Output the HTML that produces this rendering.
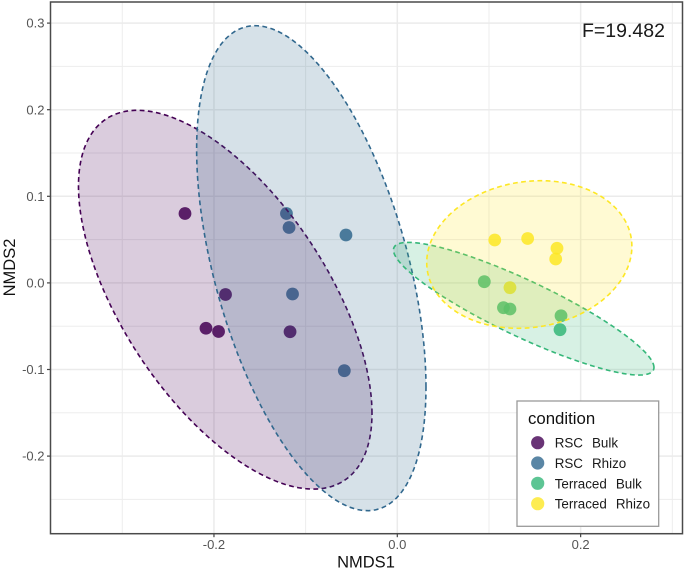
<!DOCTYPE html>
<html lang="en">
<head>
<meta charset="utf-8">
<title>NMDS ordination by condition</title>
<style>
html, body { margin: 0; padding: 0; background: #fff; overflow: hidden; }
svg { display: block; font-family: "Liberation Sans", sans-serif; filter: blur(0.35px); }
text { white-space: pre; }
</style>
</head>
<body>
<svg id="chart" xmlns="http://www.w3.org/2000/svg" width="685" height="570" viewBox="0 0 685 570">
  <rect x="0" y="0" width="685" height="570" fill="#ffffff"/>
  <g id="grid"></g>
  <g id="axis-marks"></g>
  <g id="points"></g>
  <g id="ellipses"></g>
  <rect x="50.5" y="2" width="632" height="531.7" fill="none" stroke="#4a4a4a" stroke-width="1.5"/>
  <text x="582" y="37" font-size="19.5" fill="#1a1a1a">F=19.482</text>
  <text x="366" y="567.7" font-size="16.5" text-anchor="middle" fill="#111111">NMDS1</text>
  <text transform="translate(15 267.5) rotate(-90)" font-size="16.5" text-anchor="middle" fill="#111111">NMDS2</text>
  <g>
    <rect x="517" y="401" width="141.7" height="125.3" fill="#ffffff" stroke="#9a9a9a" stroke-width="1.3"/>
    <text x="528" y="424" font-size="16.8" fill="#111111">condition</text>
    <circle cx="537.7" cy="442.7" r="6.6" fill="#440154" fill-opacity="0.8"/>
    <text x="554.7" y="447.7" font-size="13.4" word-spacing="0.8" fill="#1a1a1a">RSC  Bulk</text>
    <circle cx="537.7" cy="463" r="6.6" fill="#31688e" fill-opacity="0.8"/>
    <text x="554.7" y="468" font-size="13.4" word-spacing="0.8" fill="#1a1a1a">RSC  Rhizo</text>
    <circle cx="537.7" cy="483.3" r="6.6" fill="#35b779" fill-opacity="0.8"/>
    <text x="554.7" y="488.3" font-size="13.4" word-spacing="0.8" fill="#1a1a1a">Terraced  Bulk</text>
    <circle cx="537.7" cy="503.7" r="6.6" fill="#fde725" fill-opacity="0.8"/>
    <text x="554.7" y="508.7" font-size="13.4" word-spacing="0.8" fill="#1a1a1a">Terraced  Rhizo</text>
  </g>
</svg>
<script>
// Data
const xTicks = [-0.2, 0.0, 0.2];
const xTickLabels = ['-0.2', '0.0', '0.2'];
const xMinor = [-0.3, -0.1, 0.1, 0.3];
const yTicks = [-0.2, -0.1, 0.0, 0.1, 0.2, 0.3];
const yTickLabels = ['-0.2', '-0.1', '0.0', '0.1', '0.2', '0.3'];
const yMinor = [-0.25, -0.15, -0.05, 0.05, 0.15, 0.25];
const groupKeys = ['rsc-bulk', 'rsc-rhizo', 'terraced-bulk', 'terraced-rhizo'];

const rscBulkX = [-0.2316, -0.1874, -0.2087, -0.1950, -0.1170];
const rscBulkY = [0.0801, -0.0134, -0.0524, -0.0561, -0.0564];
const rscRhizoX = [-0.1209, -0.1181, -0.0560, -0.1143, -0.0578];
const rscRhizoY = [0.0801, 0.0640, 0.0553, -0.0128, -0.1014];
const terracedBulkX = [0.0949, 0.1158, 0.1229, 0.1786, 0.1775];
const terracedBulkY = [0.0014, -0.0286, -0.0301, -0.0379, -0.0540];
const terracedRhizoX = [0.1063, 0.1422, 0.1742, 0.1728, 0.1229];
const terracedRhizoY = [0.0495, 0.0513, 0.0400, 0.0276, -0.0055];

// Ellipse statistics per group: centre, half extents and correlation
const ellipseCenterX = [-0.1877, -0.0938, 0.1379, 0.1440];
const ellipseCenterY = [-0.0194, 0.0170, -0.0298, 0.0328];
const ellipseHalfX = [0.1601, 0.1251, 0.1421, 0.1119];
const ellipseHalfY = [0.2187, 0.2800, 0.0766, 0.0852];
const ellipseCorr = [-0.60, -0.49, -0.885, 0.11];

const NS = 'http://www.w3.org/2000/svg';
const PANEL = { left: 50.5, right: 682.5, top: 2, bottom: 533.7 };
const COLORS = ['#440154', '#31688e', '#35b779', '#fde725'];

function xScale(v) { return 397.3 + v * 916.7; }
function yScale(v) { return 282.9 - v * 866; }

function make(parent, tag, attrs) {
  const el = document.createElementNS(NS, tag);
  for (const k in attrs) el.setAttribute(k, attrs[k]);
  parent.appendChild(el);
  return el;
}

const grid = document.getElementById('grid');
const axisMarks = document.getElementById('axis-marks');
const pointsLayer = document.getElementById('points');
const ellipsesLayer = document.getElementById('ellipses');

xMinor.forEach(function (v) {
  const el = make(grid, 'line', { x1: xScale(v), x2: xScale(v), y1: PANEL.top, y2: PANEL.bottom, stroke: '#ededed', 'stroke-width': 1 });
  
  
});
yMinor.forEach(function (v) {
  const el = make(grid, 'line', { x1: PANEL.left, x2: PANEL.right, y1: yScale(v), y2: yScale(v), stroke: '#ededed', 'stroke-width': 1 });
  
  
});
xTicks.forEach(function (v, i) {
  const x = xScale(v);
  const gridline = make(grid, 'line', { x1: x, x2: x, y1: PANEL.top, y2: PANEL.bottom, stroke: '#ebebeb', 'stroke-width': 1.5 });
  
  
  const tick = make(axisMarks, 'line', { x1: x, x2: x, y1: PANEL.bottom, y2: PANEL.bottom + 3.5, stroke: '#444444', 'stroke-width': 1.2 });
  
  
  const label = make(axisMarks, 'text', { x: x, y: 549, 'font-size': 13, 'text-anchor': 'middle', fill: '#555555' });
  
  
  label.textContent = xTickLabels[i];
});
yTicks.forEach(function (v, i) {
  const y = yScale(v);
  const gridline = make(grid, 'line', { x1: PANEL.left, x2: PANEL.right, y1: y, y2: y, stroke: '#ebebeb', 'stroke-width': 1.5 });
  
  
  const tick = make(axisMarks, 'line', { x1: PANEL.left - 3.5, x2: PANEL.left, y1: y, y2: y, stroke: '#444444', 'stroke-width': 1.2 });
  
  
  const label = make(axisMarks, 'text', { x: 44.5, y: y + 4.6, 'font-size': 13, 'text-anchor': 'end', fill: '#555555' });
  
  
  label.textContent = yTickLabels[i];
});

const seriesX = [rscBulkX, rscRhizoX, terracedBulkX, terracedRhizoX];
const seriesY = [rscBulkY, rscRhizoY, terracedBulkY, terracedRhizoY];
seriesX.forEach(function (xs, g) {
  xs.forEach(function (xv, i) {
    const dot = make(pointsLayer, 'circle', { cx: xScale(xv), cy: yScale(seriesY[g][i]), r: 6.4, fill: COLORS[g], 'fill-opacity': 0.85 });
    
    
  });
});

groupKeys.forEach(function (key, g) {
  const phi = Math.acos(ellipseCorr[g]);
  const pts = [];
  for (let k = 0; k < 180; k++) {
    const t = k / 180 * Math.PI * 2;
    const xv = ellipseCenterX[g] + ellipseHalfX[g] * Math.cos(t);
    const yv = ellipseCenterY[g] + ellipseHalfY[g] * Math.cos(t - phi);
    pts.push(xScale(xv).toFixed(2) + ',' + yScale(yv).toFixed(2));
  }
  const shape = make(ellipsesLayer, 'polygon', {
    points: pts.join(' '),
    fill: COLORS[g],
    'fill-opacity': 0.2,
    stroke: COLORS[g],
    'stroke-width': 1.6,
    'stroke-dasharray': '4.8 3.4'
  });
  
  
});
</script>
</body>
</html>
